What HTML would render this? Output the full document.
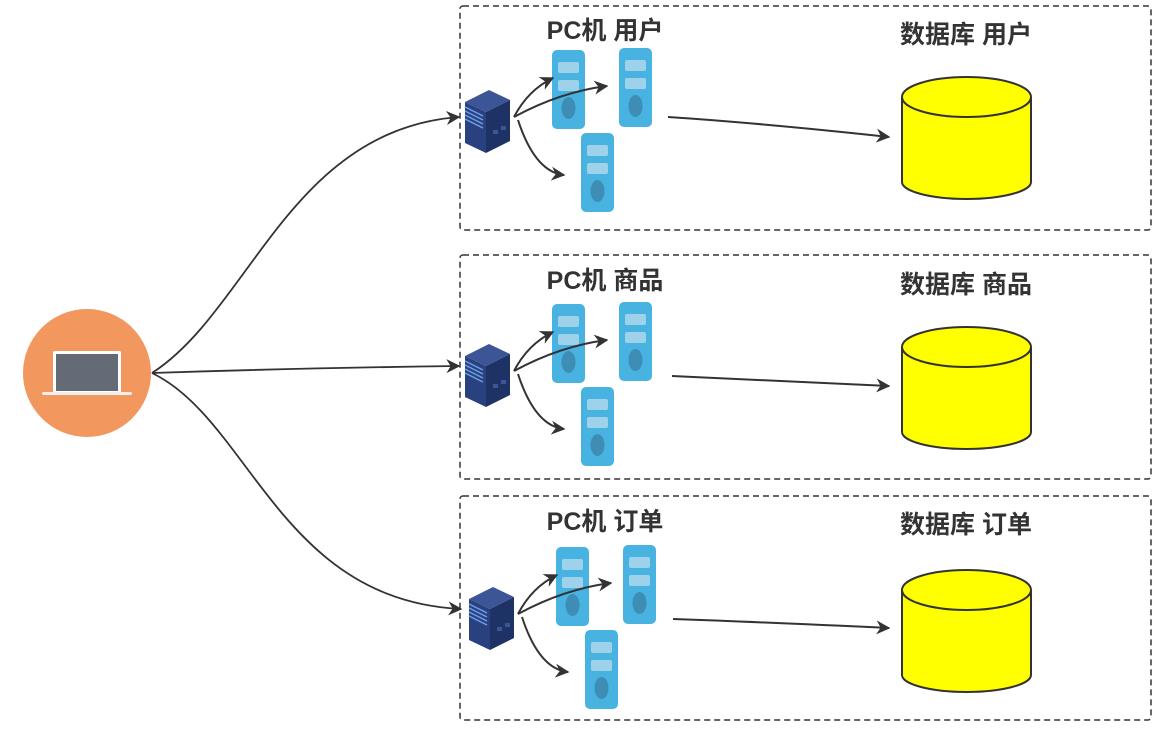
<!DOCTYPE html>
<html><head><meta charset="utf-8"><style>
html,body{margin:0;padding:0;background:#fff;}
svg{display:block;}
text{font-family:"Liberation Sans","Noto Sans CJK SC",sans-serif;font-weight:bold;font-size:25px;fill:#333;}
</style></head><body>
<svg width="1167" height="731" viewBox="0 0 1167 731" xmlns="http://www.w3.org/2000/svg">
<defs>
<marker id="ar" viewBox="0 0 10 10" refX="9" refY="5" markerWidth="20" markerHeight="14" orient="auto" markerUnits="userSpaceOnUse">
<path d="M0,0 L10,5 L0,10 L3,5 z" fill="#333"/></marker>
<g id="pc">
<rect x="0" y="0" width="33" height="79" rx="5" fill="#48b2e0"/>
<rect x="6" y="12" width="21" height="11" rx="2" fill="#9ed2ea"/>
<rect x="6" y="30" width="21" height="11" rx="2" fill="#9ed2ea"/>
<ellipse cx="16.5" cy="58" rx="7" ry="11" fill="#3e8db5"/>
</g>
<g id="srv">
<polygon points="2,17 26,5 47,15 23,27" fill="#3c5596"/>
<polygon points="2,17 23,27 23,68 2,58" fill="#2a4180"/>
<polygon points="23,27 47,15 47,56 23,68" fill="#1f3266"/>
<g stroke="#6aa0e8" stroke-width="1.5">
<line x1="2" y1="22" x2="20" y2="31"/><line x1="2" y1="26" x2="20" y2="35"/>
<line x1="2" y1="30" x2="20" y2="39"/><line x1="2" y1="34" x2="20" y2="43"/></g>
<rect x="30" y="45" width="5" height="4" fill="#3c5596"/><rect x="38" y="41" width="5" height="4" fill="#3c5596"/>
</g>
<rect id="box" x="460" y="6" width="691" height="224" rx="3" fill="none" stroke="#333" stroke-width="1.5" stroke-dasharray="6,4"/>
<g id="pcs">
<use href="#srv" x="463" y="85"/>
<use href="#pc" x="552" y="50"/>
<use href="#pc" x="619" y="48"/>
<use href="#pc" x="581" y="133"/>
<g fill="none" stroke="#333" stroke-width="2" marker-end="url(#ar)">
<path d="M514,117 Q528,90 553,78"/>
<path d="M514,117 Q560,92 607,86"/>
<path d="M518,120 Q535,172 564,175"/>
</g>
</g>
<g id="db">
<path d="M902,97 L902,182 A64.5,17 0 0 0 1031,182 L1031,97" fill="#ffff00" stroke="#333" stroke-width="2"/>
<ellipse cx="966.5" cy="97" rx="64.5" ry="20" fill="#ffff00" stroke="#333" stroke-width="2"/>
</g>
</defs>
<use href="#box" x="0" y="0"/>
<use href="#box" x="0" y="249"/>
<use href="#box" x="0" y="490"/>
<use href="#pcs" x="0" y="0"/>
<use href="#pcs" x="0" y="254"/>
<use href="#pcs" x="4" y="497"/>
<use href="#db" x="0" y="0"/>
<use href="#db" x="0" y="250"/>
<use href="#db" x="0" y="493"/>
<g fill="none" stroke="#333" stroke-width="2" marker-end="url(#ar)">
<path d="M668,117 Q760,123 889,137"/>
<path d="M672,376 Q760,380 889,386"/>
<path d="M673,619 Q760,622 889,628"/>
</g>
<text x="605" y="39" text-anchor="middle">PC机 用户</text>
<text x="966" y="43" text-anchor="middle">数据库 用户</text>
<text x="605" y="289" text-anchor="middle">PC机 商品</text>
<text x="966" y="293" text-anchor="middle">数据库 商品</text>
<text x="605" y="530" text-anchor="middle">PC机 订单</text>
<text x="966" y="533" text-anchor="middle">数据库 订单</text>
<circle cx="87" cy="373" r="64" fill="#f2975e"/>
<rect x="53" y="351" width="68" height="43" rx="2" fill="#fff"/>
<rect x="56" y="354" width="62" height="37" fill="#646b76"/>
<rect x="42" y="392" width="90" height="3" rx="1.5" fill="#eee"/>
<g fill="none" stroke="#333" stroke-width="1.8" marker-end="url(#ar)">
<path d="M152,373 C250,310 290,130 459,117"/>
<path d="M152,373 Q300,368 459,366"/>
<path d="M152,373 C250,420 280,600 461,609"/>
</g>
</svg>
</body></html>
